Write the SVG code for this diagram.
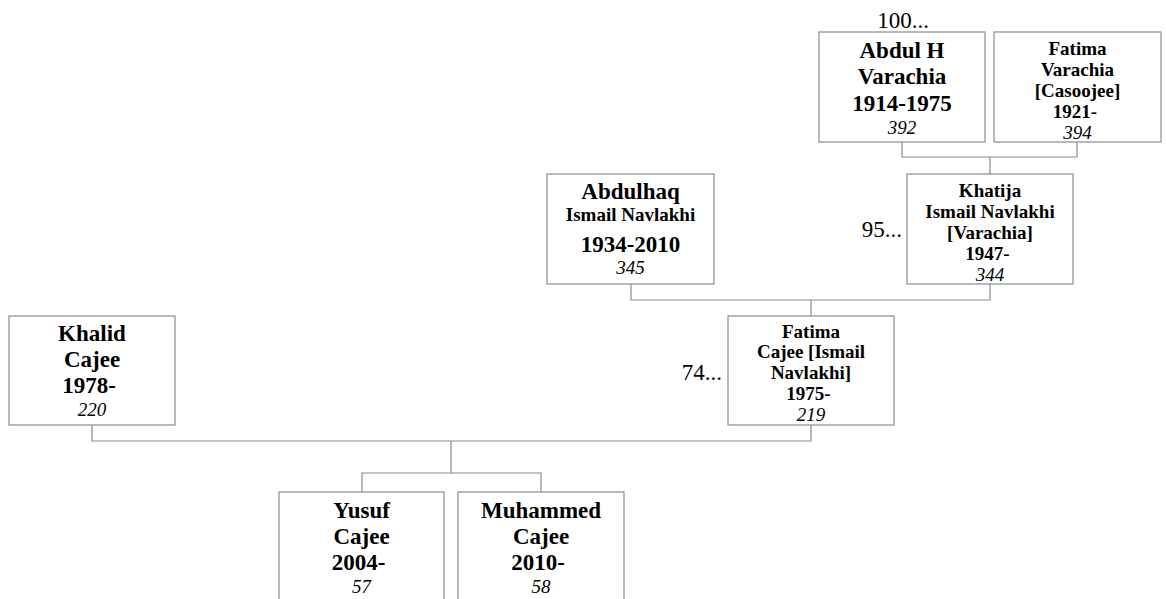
<svg xmlns="http://www.w3.org/2000/svg" width="1166" height="599" viewBox="0 0 1166 599">
<style>
.box{fill:#fff;stroke:#8c8c8c;stroke-width:1.2}
.con{fill:none;stroke:#8c8c8c;stroke-width:1.2}
text{font-family:"Liberation Serif","Times New Roman",serif;fill:#000;text-anchor:middle}
.b{font-weight:bold;font-size:23px}
.s{font-weight:bold;font-size:19px}
.i{font-style:italic;font-size:19px}
.r{font-size:23px}
.e{text-anchor:end}
</style>
<rect width="1166" height="599" fill="#fff"/>
<g id="connectors">
<path class="con" d="M902,142 V157 H1077 V142 M990,157 V174"/>
<path class="con" d="M631,284 V300 H990 V284 M811,300 V316"/>
<path class="con" d="M92,425 V441 H811 V425 M451,441 V473"/>
<path class="con" d="M362,492 V473 H541 V492"/>
</g>
<g id="more100"><text class="r" x="903" y="28">100...</text></g>
<g id="more95"><text class="r e" x="902" y="237">95...</text></g>
<g id="more74"><text class="r e" x="722" y="380">74...</text></g>
<g id="n392">
<rect class="box" x="819" y="32" width="166" height="110"/>
<text class="b" x="902" y="58">Abdul H</text>
<text class="b" x="902" y="84">Varachia</text>
<text class="b" x="902" y="111">1914-1975</text>
<text class="i" x="902" y="134">392</text>
</g>
<g id="n394">
<rect class="box" x="994" y="32" width="167" height="110"/>
<text class="s" x="1077.5" y="55">Fatima</text>
<text class="s" x="1077.5" y="76">Varachia</text>
<text class="s" x="1077.5" y="97">[Casoojee]</text>
<text class="s" x="1075" y="118">1921-</text>
<text class="i" x="1077.5" y="139">394</text>
</g>
<g id="n345">
<rect class="box" x="547" y="174" width="167" height="110"/>
<text class="b" x="630.5" y="199">Abdulhaq</text>
<text class="s" x="630.5" y="221">Ismail Navlakhi</text>
<text class="b" x="630.5" y="252">1934-2010</text>
<text class="i" x="630.5" y="274">345</text>
</g>
<g id="n344">
<rect class="box" x="907" y="174" width="166" height="110"/>
<text class="s" x="990" y="197">Khatija</text>
<text class="s" x="990" y="218">Ismail Navlakhi</text>
<text class="s" x="990" y="239">[Varachia]</text>
<text class="s" x="987.5" y="260">1947-</text>
<text class="i" x="990" y="281">344</text>
</g>
<g id="n220">
<rect class="box" x="9" y="316" width="166" height="109"/>
<text class="b" x="92" y="341">Khalid</text>
<text class="b" x="92" y="367">Cajee</text>
<text class="b" x="89" y="393">1978-</text>
<text class="i" x="92" y="416">220</text>
</g>
<g id="n219">
<rect class="box" x="728" y="316" width="166" height="109"/>
<text class="s" x="811" y="338">Fatima</text>
<text class="s" x="811" y="358">Cajee [Ismail</text>
<text class="s" x="811" y="379">Navlakhi]</text>
<text class="s" x="808.5" y="400">1975-</text>
<text class="i" x="811" y="421">219</text>
</g>
<g id="n57">
<rect class="box" x="279" y="492" width="165" height="120"/>
<text class="b" x="361.5" y="518">Yusuf</text>
<text class="b" x="361.5" y="544">Cajee</text>
<text class="b" x="358.5" y="570">2004-</text>
<text class="i" x="361.5" y="593">57</text>
</g>
<g id="n58">
<rect class="box" x="458" y="492" width="166" height="120"/>
<text class="b" x="541" y="518">Muhammed</text>
<text class="b" x="541" y="544">Cajee</text>
<text class="b" x="538" y="570">2010-</text>
<text class="i" x="541" y="593">58</text>
</g>
</svg>
